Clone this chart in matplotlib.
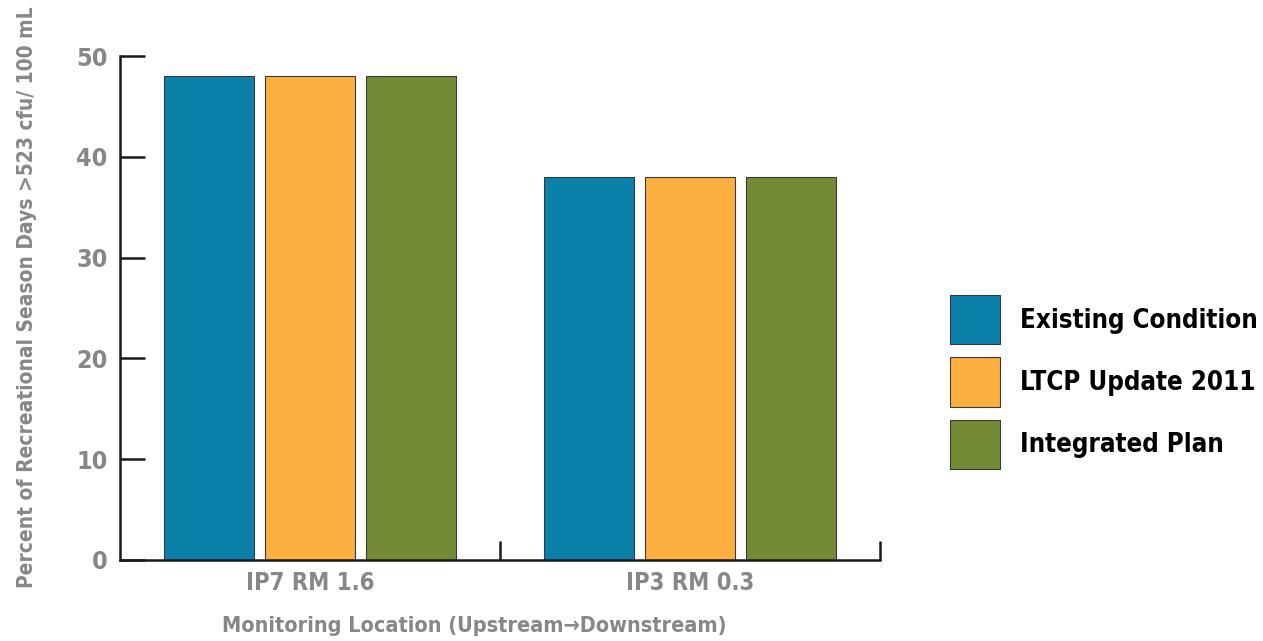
import numpy as np
import matplotlib
matplotlib.use('Agg')
import matplotlib.pyplot as plt

LOCATIONS = ['IP7 RM 1.6', 'IP3 RM 0.3']
SERIES = ['Existing Condition', 'LTCP Update 2011', 'Integrated Plan']
EXISTING = [48, 38]
LTCP_2011 = [48, 38]
INTEGRATED = [48, 38]
Y_TICKS = [0, 10, 20, 30, 40, 50]

COLORS = ('#0b80a9', '#fbb03f', '#758a35')
GRAY = '#878787'


def main():
    plt.rcParams['font.family'] = ['DejaVu Sans']
    plt.rcParams['font.stretch'] = 'condensed'
    plt.rcParams['font.weight'] = 'bold'
    plt.rcParams['axes.labelweight'] = 'bold'

    fig = plt.figure(figsize=(12.63, 6.41), dpi=100)
    ax = fig.add_axes([0.095, 0.1264, 0.602, 0.7862])

    x = np.arange(len(LOCATIONS))
    width = 0.237
    step = 0.266
    for i, (vals, color, name) in enumerate(zip((EXISTING, LTCP_2011, INTEGRATED),
                                                 COLORS, SERIES)):
        ax.bar(x + (i - 1) * step, vals, width, color=color,
               edgecolor='#3a3a3a', linewidth=0.8, label=name)

    ax.set_xlim(-0.5, 1.5)
    ax.set_ylim(0, 50)
    ax.set_yticks(Y_TICKS)
    ax.set_xticks(x)
    ax.set_xticklabels(LOCATIONS)
    ax.set_xticks([0.5, 1.5], minor=True)

    for side in ('top', 'right'):
        ax.spines[side].set_visible(False)
    for side in ('left', 'bottom'):
        ax.spines[side].set_linewidth(1.8)
        ax.spines[side].set_color('#1a1a1a')

    ax.tick_params(axis='y', direction='in', length=18, width=1.8,
                   color='#1a1a1a', labelsize=18, labelcolor=GRAY, pad=9)
    ax.tick_params(axis='x', which='major', length=0, labelsize=17,
                   labelcolor=GRAY, pad=8)
    ax.tick_params(axis='x', which='minor', direction='in', length=14,
                   width=1.8, color='#1a1a1a')

    ax.set_ylabel('Percent of Recreational Season Days >523 cfu/ 100 mL',
                  fontsize=15, color=GRAY)
    ax.yaxis.set_label_coords(-0.109, 0.522)
    ax.set_xlabel('Monitoring Location (Upstream\u2192Downstream)',
                  fontsize=15.5, color=GRAY)
    ax.xaxis.set_label_coords(0.466, -0.112)

    fig.legend(loc='center left', bbox_to_anchor=(0.752, 0.404),
               frameon=False, fontsize=18.5, handlelength=1.95,
               handleheight=2.57, labelspacing=0.51, handletextpad=0.77,
               borderaxespad=0, borderpad=0)

    plt.savefig('out.png', dpi=100)


if __name__ == '__main__':
    main()
